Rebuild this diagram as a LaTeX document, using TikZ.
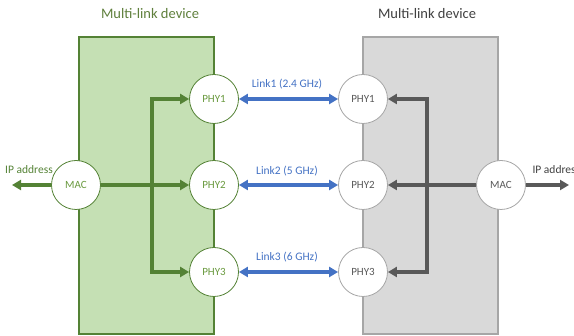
\documentclass[tikz,border=0pt]{standalone}
\usepackage{fontspec}
\setmainfont{Carlito}
\usetikzlibrary{arrows.meta}
\definecolor{gdark}{HTML}{548235}
\definecolor{gfill}{HTML}{C5E0B4}
\definecolor{gtext}{HTML}{6A9A3F}
\definecolor{gtitle}{HTML}{5F7F3C}
\definecolor{kfill}{HTML}{D9D9D9}
\definecolor{kborder}{HTML}{A6A6A6}
\definecolor{kdark}{HTML}{595959}
\definecolor{ktitle}{HTML}{404040}
\definecolor{bl}{HTML}{4472C4}
\tikzset{
  tip/.tip={Triangle[length=9pt,width=10pt]},
  gcirc/.style={circle,draw=gdark,line width=0.8pt,fill=white,minimum size=49pt,inner sep=0pt,text=gtext,font=\fontsize{11}{13}\selectfont},
  kcirc/.style={circle,draw=kborder,line width=0.8pt,fill=white,minimum size=49pt,inner sep=0pt,text=kdark,font=\fontsize{11}{13}\selectfont},
  garr/.style={draw=gdark,line width=3.2pt,-tip},
  karr/.style={draw=kdark,line width=3.2pt,-tip},
  barr/.style={draw=bl,line width=3.2pt,tip-tip},
  ttl/.style={font=\fontsize{14.5}{17}\selectfont},
  lbl/.style={font=\fontsize{11.5}{13}\selectfont},
}
\begin{document}
\begin{tikzpicture}[x=1pt,y=-1pt]
\useasboundingbox (0,0) rectangle (574,336);
% devices
\path[fill=gfill,draw=gdark,line width=1.3pt] (79,37) rectangle (214,334);
\path[fill=kfill,draw=kborder,line width=1.3pt] (363,37) rectangle (498,334);
\node[ttl,text=gtitle] (t1) at (150,14) {Multi-link device};
\node[ttl,text=ktitle] (t2) at (427,14) {Multi-link device};
% circles
\node[gcirc] (lmac) at (76,185) {MAC};
\node[gcirc] (lp1) at (214,99) {PHY1};
\node[gcirc] (lp2) at (214,185) {PHY2};
\node[gcirc] (lp3) at (214,272) {PHY3};
\node[kcirc] (rmac) at (501,185) {MAC};
\node[kcirc] (rp1) at (363,99) {PHY1};
\node[kcirc] (rp2) at (363,185) {PHY2};
\node[kcirc] (rp3) at (363,272) {PHY3};
% junctions
\coordinate (gj) at (152,185);
\coordinate (kj) at (427,185);
\coordinate (lip) at (12,185);
\coordinate (rip) at (569,185);
% green arrows
\draw[garr] (lmac.east) -- (lp2.west);
\draw[garr,tip-tip] (lp1.west) -| (gj) |- (lp3.west);
\draw[garr] (lmac.west) -- (lip);
% gray arrows
\draw[karr] (rmac.west) -- (rp2.east);
\draw[karr,tip-tip] (rp1.east) -| (kj) |- (rp3.east);
\draw[karr] (rmac.east) -- (rip);
% blue links
\draw[barr] (lp1.east) -- (rp1.west);
\draw[barr] (lp2.east) -- (rp2.west);
\draw[barr] (lp3.east) -- (rp3.west);
\node[lbl,text=bl] (l1) at (287,84) {Link1 (2.4 GHz)};
\node[lbl,text=bl] (l2) at (287,171) {Link2 (5 GHz)};
\node[lbl,text=bl] (l3) at (287,257) {Link3 (6 GHz)};
% IP address labels
\node[lbl,text=gdark] (ipl) at (29,170) {IP address};
\node[lbl,text=ktitle,anchor=west] (ipr) at (529,170) {IP address};
\end{tikzpicture}
\end{document}
